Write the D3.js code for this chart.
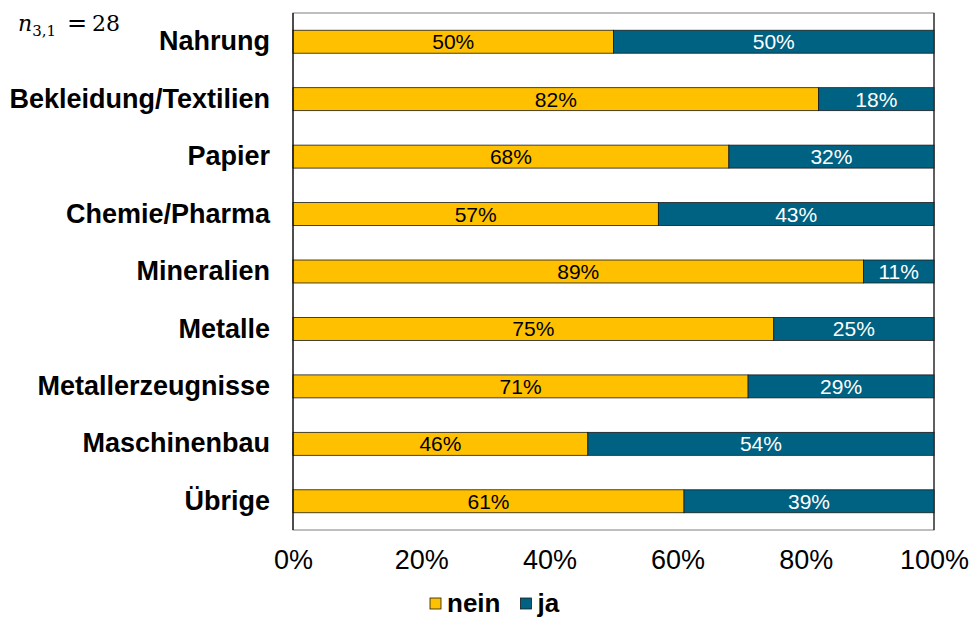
<!DOCTYPE html>
<html>
<head>
<meta charset="utf-8">
<script src="https://cdn.jsdelivr.net/npm/d3@7"></script>
<style>
body { margin: 0; background: #fff; }
text { font-family: "Liberation Sans", Arial, sans-serif; }
</style>
</head>
<body>
<div id="chart"></div>
<script>
var categories = ["Nahrung", "Bekleidung/Textilien", "Papier", "Chemie/Pharma", "Mineralien", "Metalle", "Metallerzeugnisse", "Maschinenbau", "Übrige"];
var nein = [50, 82, 68, 57, 89, 75, 71, 46, 61];
var ja = [50, 18, 32, 43, 11, 25, 29, 54, 39];
var seriesNames = ["nein", "ja"];
var seriesColors = ["#FFC000", "#006282"];
var xTicks = [0, 20, 40, 60, 80, 100];

var svgWidth = 971, svgHeight = 617;
var margin = { top: 13, left: 293, right: 37, bottom: 87 };
var width = svgWidth - margin.left - margin.right;
var height = svgHeight - margin.top - margin.bottom;

var svg = d3.select("#chart").append("svg").attr("width", svgWidth).attr("height", svgHeight);
var chartGroup = svg.append("g").attr("transform", `translate(${margin.left},${margin.top})`);

var xScale = d3.scaleLinear().domain([0, 100]).range([0, width]);
var yScale = d3.scaleBand().domain(categories).range([0, height]).paddingInner(0.6).paddingOuter(0.3);

var rows = categories.map((c, i) => ({ cat: c, vals: [nein[i], ja[i]] }));

// plot frame
chartGroup.append("rect").attr("x", 0).attr("y", 0).attr("width", width).attr("height", height)
    .attr("fill", "none").attr("stroke", "#7f7f7f").attr("stroke-width", 1);
chartGroup.append("line").attr("x1", width).attr("x2", width).attr("y1", 0).attr("y2", height)
    .attr("stroke", "#000").attr("stroke-width", 1);

rows.forEach(function (r) {
    var x0 = 0;
    r.vals.forEach(function (v, k) {
        chartGroup.append("rect")
            .attr("x", xScale(x0)).attr("y", yScale(r.cat))
            .attr("width", xScale(x0 + v) - xScale(x0)).attr("height", yScale.bandwidth())
            .attr("fill", seriesColors[k]).attr("stroke", "#1a1a1a").attr("stroke-width", 0.8);
        chartGroup.append("text")
            .attr("x", xScale(x0 + v / 2)).attr("y", yScale(r.cat) + yScale.bandwidth() / 2 + 7.5)
            .attr("text-anchor", "middle").attr("font-size", "21px")
            .attr("fill", k === 0 ? "#000" : "#fff").text(v + "%");
        x0 += v;
    });
});

// left axis line
chartGroup.append("line").attr("x1", 0).attr("x2", 0).attr("y1", 0).attr("y2", height)
    .attr("stroke", "#000").attr("stroke-width", 1.2);

// category labels
var yAxis = chartGroup.append("g").call(d3.axisLeft(yScale).tickSize(0).tickPadding(23));
yAxis.select(".domain").remove();
yAxis.selectAll("text").attr("font-size", "27px").attr("font-weight", "bold").attr("fill", "#000")
    .style("font-family", "'Liberation Sans', Arial, sans-serif");

// x axis labels
var xAxis = chartGroup.append("g").attr("transform", `translate(0,${height})`)
    .call(d3.axisBottom(xScale).tickValues(xTicks).tickSize(0).tickPadding(20).tickFormat(d => d + "%"));
xAxis.select(".domain").remove();
xAxis.selectAll("text").attr("font-size", "27px").attr("fill", "#000")
    .style("font-family", "'Liberation Sans', Arial, sans-serif");

// legend
var legend = svg.append("g").attr("transform", "translate(430,598)");
var lx = 0;
seriesNames.forEach(function (name, k) {
    legend.append("rect").attr("x", lx).attr("y", 0).attr("width", 11).attr("height", 11)
        .attr("fill", seriesColors[k]).attr("stroke", "#1a1a1a").attr("stroke-width", 0.8);
    var t = legend.append("text").attr("x", lx + 17).attr("y", 14).attr("font-size", "26px")
        .attr("font-weight", "bold").attr("fill", "#000").text(name);
    lx += 17 + t.node().getComputedTextLength() + 20;
});

// sample size note
var note = svg.append("text").attr("x", 18).attr("y", 31)
    .style("font-family", "'DejaVu Serif', 'Liberation Serif', serif").attr("font-size", "22px").attr("fill", "#000");
note.append("tspan").attr("font-style", "italic").text("n");
note.append("tspan").attr("font-size", "15px").attr("dy", 5).text("3,1");
note.append("tspan").attr("x", 67).attr("dy", -5).attr("font-size", "24px").text("=");
note.append("tspan").attr("x", 92).text("28");
</script>
</body>
</html>
